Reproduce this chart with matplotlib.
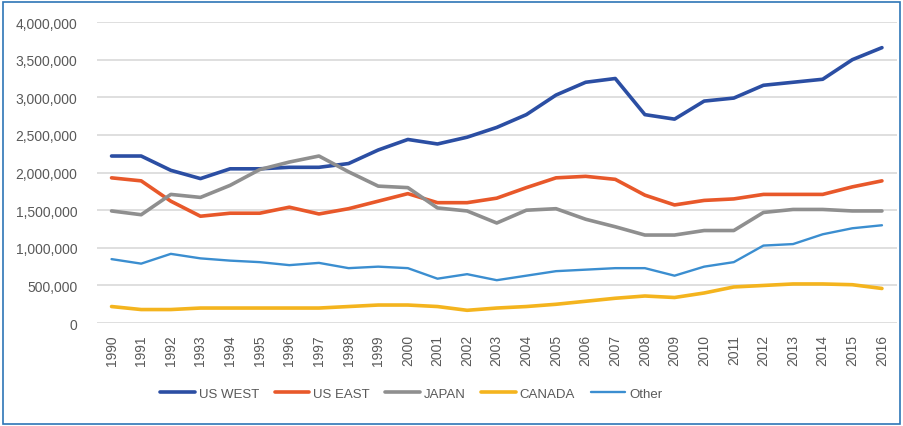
import matplotlib.pyplot as plt
from matplotlib.ticker import FuncFormatter, MultipleLocator
from matplotlib.patches import Rectangle

years = list(range(1990, 2017))

us_west = [2220000, 2220000, 2030000, 1920000, 2050000, 2050000, 2070000, 2070000, 2120000,
           2300000, 2440000, 2380000, 2470000, 2600000, 2770000, 3030000, 3200000, 3250000,
           2770000, 2710000, 2950000, 2990000, 3160000, 3200000, 3240000, 3500000, 3660000]
us_east = [1930000, 1890000, 1620000, 1420000, 1460000, 1460000, 1540000, 1450000, 1520000,
           1620000, 1720000, 1600000, 1600000, 1660000, 1800000, 1930000, 1950000, 1910000,
           1700000, 1570000, 1630000, 1650000, 1710000, 1710000, 1710000, 1810000, 1890000]
japan = [1490000, 1440000, 1710000, 1670000, 1830000, 2040000, 2140000, 2220000, 2010000,
         1820000, 1800000, 1530000, 1490000, 1330000, 1500000, 1520000, 1380000, 1280000,
         1170000, 1170000, 1230000, 1230000, 1470000, 1510000, 1510000, 1490000, 1490000]
canada = [220000, 180000, 180000, 200000, 200000, 200000, 200000, 200000, 220000,
          240000, 240000, 220000, 170000, 200000, 220000, 250000, 290000, 330000,
          360000, 340000, 400000, 480000, 500000, 520000, 520000, 510000, 460000]
other = [850000, 790000, 920000, 860000, 830000, 810000, 770000, 800000, 730000,
         750000, 730000, 590000, 650000, 570000, 630000, 690000, 710000, 730000,
         730000, 630000, 750000, 810000, 1030000, 1050000, 1180000, 1260000, 1300000]

series = [
    ("US WEST", us_west, "#2B4EA3", 2.6),
    ("US EAST", us_east, "#E8582A", 2.6),
    ("JAPAN", japan, "#8F8F8F", 2.6),
    ("CANADA", canada, "#F4B41E", 2.6),
    ("Other", other, "#3B8ED0", 1.7),
]

plt.rcParams["font.family"] = ["Liberation Sans", "DejaVu Sans"]

fig = plt.figure(figsize=(9.04, 4.27), dpi=100)
ax = fig.add_axes([0.107, 0.241, 0.885, 0.705])

for name, vals, col, lw in series:
    ax.plot(range(len(years)), vals, color=col, lw=lw, label=name,
            solid_joinstyle="round", solid_capstyle="round")

ax.set_xlim(-0.5, len(years) - 0.5)
ax.set_ylim(0, 4000000)
ax.yaxis.set_major_locator(MultipleLocator(500000))
ax.yaxis.set_major_formatter(FuncFormatter(lambda v, p: f"{int(v):,}"))
ax.set_xticks(range(len(years)))
ax.set_xticklabels([str(y) for y in years], rotation=90)
ax.tick_params(axis="both", length=0, colors="#595959", labelsize=10)
ax.tick_params(axis="y", pad=14)
ax.tick_params(axis="x", pad=8)
ax.grid(axis="y", color="#D9D9D9", lw=1.2)
ax.set_axisbelow(True)
for s in ax.spines.values():
    s.set_visible(False)

leg = fig.legend(loc="center", bbox_to_anchor=(0.455, 0.075), ncol=5, frameon=False,
                 fontsize=9.5, handlelength=2.6, columnspacing=1.2, handletextpad=0.3)
for t in leg.get_texts():
    t.set_color("#595959")

fig.patches.append(Rectangle((0.003, 0.004), 0.993, 0.99, transform=fig.transFigure,
                             fill=False, edgecolor="#2E75B6", lw=1.2))

fig.savefig("out.png", dpi=100)
